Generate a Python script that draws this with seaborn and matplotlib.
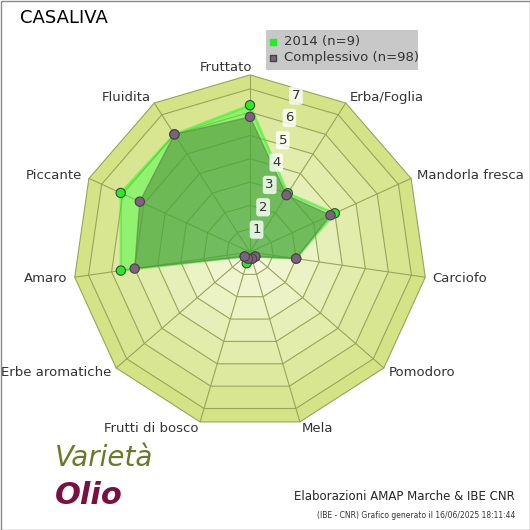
"""Radar chart: CASALIVA sensory profile, 2014 vs overall."""

import numpy as np
import pandas as pd
import seaborn as sns
from matplotlib import pyplot as plt
from matplotlib.patches import Polygon

CATEGORIES = ["Fruttato", "Erba/Foglia", "Mandorla fresca", "Carciofo", "Pomodoro",
              "Mela", "Frutti di bosco", "Erbe aromatiche", "Amaro", "Piccante", "Fluidita"]
VALUES_2014 = [6.3, 3.0, 4.0, 2.0, 0.3, 0.3, 0.5, 0.3, 5.6, 6.1, 6.0]
VALUES_ALL = [5.8, 2.9, 3.8, 2.0, 0.3, 0.3, 0.3, 0.3, 5.0, 5.2, 6.0]
TICKS = [1, 2, 3, 4, 5, 6, 7]

CX, CY, UNIT = 250, 252, 23.3
OUTER = 7.6

sns.set_theme(style="white")
plt.rcParams["font.family"] = ["DejaVu Sans"]

fig = plt.figure(figsize=(5.3, 5.3), dpi=100)
ax = fig.add_axes([0, 0, 1, 1])
ax.set_xlim(0, 530)
ax.set_ylim(530, 0)
ax.axis("off")

n = len(CATEGORIES)
ang = np.arange(n) * 2 * np.pi / n


def xy(r, a):
    return CX + r * UNIT * np.sin(a), CY - r * UNIT * np.cos(a)


# graded background rings
levels = [OUTER] + TICKS[::-1]
cols = sns.blend_palette(["#d3e386", "#f5f8dc"], len(levels))
for lv, c in zip(levels, cols):
    px, py = xy(lv, ang)
    ax.add_patch(Polygon(np.c_[px, py], closed=True, fc=c, ec="#98a55a", lw=0.8, zorder=1))
for a in ang:
    ox, oy = xy(OUTER, a)
    ax.plot([CX, ox], [CY, oy], color="#98a55a", lw=0.8, zorder=2)

# series
df = pd.DataFrame({"cat": CATEGORIES * 2, "angle": np.r_[ang, ang],
                   "value": VALUES_2014 + VALUES_ALL,
                   "serie": ["2014 (n=9)"] * n + ["Complessivo (n=98)"] * n})
df["x"], df["y"] = xy(df["value"].to_numpy(), df["angle"].to_numpy())

s1 = df[df.serie == "2014 (n=9)"]
s2 = df[df.serie != "2014 (n=9)"]
ax.add_patch(Polygon(s1[["x", "y"]].to_numpy(), closed=True, fc="#33ff33", alpha=0.45,
                     ec="#22ee22", lw=1.8, zorder=3))
ax.add_patch(Polygon(s2[["x", "y"]].to_numpy(), closed=True, fc="#4f8a3c", alpha=0.55,
                     ec="#5d7a4a", lw=1.0, zorder=4))
sns.scatterplot(data=df, x="x", y="y", hue="serie", ax=ax, s=45, zorder=5,
                palette={"2014 (n=9)": "#22ee22", "Complessivo (n=98)": "#806080"},
                edgecolor="#444444", linewidth=0.8, legend=False)

# tick labels
for t in TICKS:
    tx, ty = xy(t, np.pi / n)
    ax.text(tx, ty, str(t), ha="center", va="center", fontsize=9.5, color="#333333", zorder=6,
            bbox=dict(boxstyle="round,pad=0.2", fc="white", ec="none", alpha=0.8))

# category labels
for c, a in zip(CATEGORIES, ang):
    lx, ly = xy(OUTER + 0.3, a)
    s = np.sin(a)
    ha = "center" if abs(s) < 0.15 else ("left" if s > 0 else "right")
    if c == "Fruttato":
        ha, lx = "right", lx + 2
    ax.text(lx, ly, c, ha=ha, va="center", fontsize=9.5, color="#333333", zorder=6)

ax.text(20, 18, "CASALIVA", fontsize=13, va="center", color="black")

# legend box
ax.add_patch(plt.Rectangle((266, 30), 152, 40, fc="#c8c8c8", ec="none", zorder=6))
ax.scatter([273], [42], s=22, marker="s", color="#22ee22", zorder=7)
ax.scatter([273], [58], s=22, marker="s", color="#806080", edgecolor="#444444", zorder=7)
ax.text(284, 42, "2014 (n=9)", fontsize=9.5, va="center", color="#333333", zorder=7)
ax.text(284, 58, "Complessivo (n=98)", fontsize=9.5, va="center", color="#333333", zorder=7)

# logo approximation
ax.text(55, 458, "Varietà", fontsize=20, style="italic", color="#6a7a2a", va="center", zorder=7)
ax.text(55, 495, "Olio", fontsize=22, style="italic", color="#7a1040", va="center",
        fontweight="bold", zorder=7)

ax.text(515, 496, "Elaborazioni AMAP Marche & IBE CNR", fontsize=8.5, ha="right", va="center")
ax.text(515, 516, "(IBE - CNR) Grafico generato il 16/06/2025 18:11:44", fontsize=5.5,
        ha="right", va="center", color="#333333")
ax.add_patch(plt.Rectangle((0.5, 0.5), 529, 529, fill=False, ec="#888888", lw=1))

fig.savefig("out.png", dpi=100)
